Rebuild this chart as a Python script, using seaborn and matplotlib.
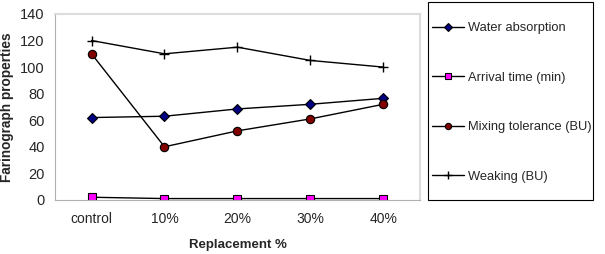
import numpy as np
import pandas as pd
import matplotlib
matplotlib.use("Agg")
import matplotlib.pyplot as plt
from matplotlib.patches import Rectangle
import seaborn as sns

categories = ["control", "10%", "20%", "30%", "40%"]
water_absorption = [62, 63, 68.5, 72, 76.5]
arrival_time = [2, 1, 1, 1, 1]
mixing_tolerance = [110, 40, 52, 61, 72]
weaking = [120, 110, 115, 105, 100]

series = {
    "Water absorption": water_absorption,
    "Arrival time (min)": arrival_time,
    "Mixing tolerance (BU)": mixing_tolerance,
    "Weaking (BU)": weaking,
}
styles = {
    "Water absorption": dict(marker="D", color="#000080", ms=5.5),
    "Arrival time (min)": dict(marker="s", color="#FF00FF", ms=5.5),
    "Mixing tolerance (BU)": dict(marker="o", color="#800000", ms=6),
    "Weaking (BU)": dict(marker="+", color="black", ms=7.5),
}

rows = []
for name, vals in series.items():
    for i, v in enumerate(vals):
        rows.append({"pos": i, "value": v, "series": name})
df = pd.DataFrame(rows)

sns.set_style("white")
plt.rcParams["font.family"] = ["Liberation Sans", "DejaVu Sans"]

fig = plt.figure(figsize=(6.05, 2.54), dpi=100)
ax = fig.add_axes([0.091, 0.213, 0.603, 0.732])

for name in series:
    st = styles[name]
    sub = df[df["series"] == name]
    sns.lineplot(data=sub, x="pos", y="value", ax=ax, color="black", lw=1,
                 marker=st["marker"], markersize=st["ms"],
                 markerfacecolor=st["color"], markeredgecolor="black",
                 markeredgewidth=0.8 if st["marker"] != "+" else 1.0,
                 label=name, legend=False)

ax.set_xlim(-0.5, 4.5)
ax.set_ylim(0, 140)
ax.set_yticks(np.arange(0, 141, 20))
ax.set_xticks(range(len(categories)))
ax.set_xticklabels(categories)
ax.set_xticks(np.arange(-0.5, 4.6, 1), minor=True)
ax.tick_params(axis="x", which="major", length=0, labelsize=10, pad=9)
ax.tick_params(axis="x", which="minor", length=4, color="#c0c0c0", direction="out")
ax.tick_params(axis="y", length=4, color="#c0c0c0", labelsize=10.5, direction="out")
ax.set_xlabel("Replacement %", fontsize=9.5, fontweight="bold", labelpad=9)
ax.set_ylabel("Farinograph properties", fontsize=9.8, fontweight="bold", labelpad=4)
for s in ["left", "bottom"]:
    ax.spines[s].set_color("#b0b0b0")
for s in ["top", "right"]:
    ax.spines[s].set_color("#dcdcdc")
    ax.spines[s].set_linewidth(1.5)

# legend frame drawn separately so the padding can differ per side
W, H = 605, 254
fig.patches.append(Rectangle((428 / W, 1 - 200 / H), 165 / W, 198 / H,
                             transform=fig.transFigure, fill=False,
                             edgecolor="black", lw=0.8))

handles, labels = ax.get_legend_handles_labels()
leg = fig.legend(handles, labels, loc="upper left",
                 bbox_to_anchor=(432 / W, 1 - 22 / H),
                 fontsize=9.3, frameon=False,
                 labelspacing=2.9, borderpad=0, handlelength=2.5,
                 handletextpad=0.3, borderaxespad=0, markerscale=0.75)

fig.savefig("out.png", dpi=100)
